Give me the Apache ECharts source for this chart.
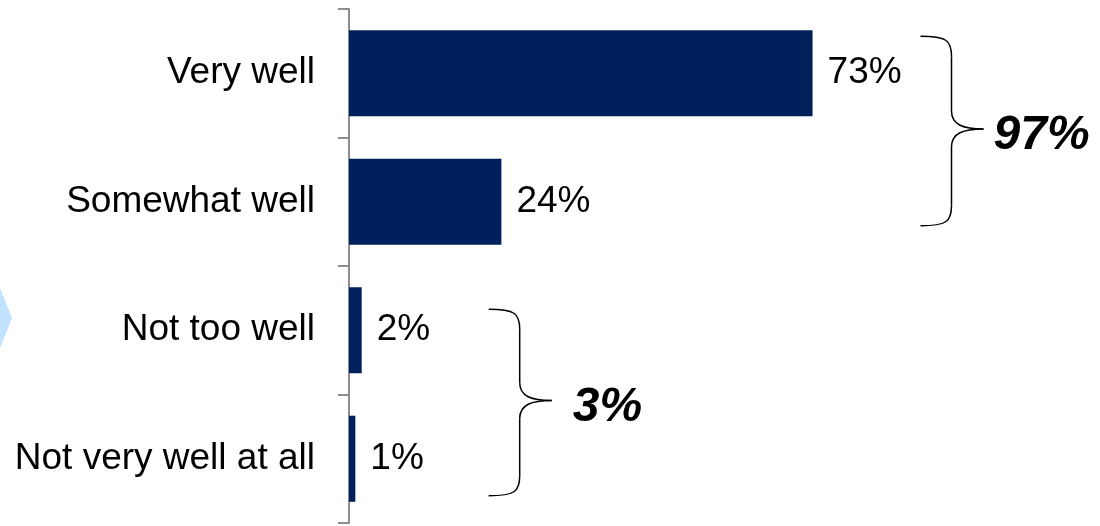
<!DOCTYPE html>
<html>
<head>
<meta charset="utf-8">
<script src="https://cdn.jsdelivr.net/npm/echarts@6/dist/echarts.min.js"></script>
<style>html,body{margin:0;padding:0;background:#fff}#c{width:1100px;height:526px}</style>
</head>
<body>
<div id="c"></div>
<script>
const categories = ['Very well', 'Somewhat well', 'Not too well', 'Not very well at all'];
const values = [73, 24, 2, 1];
// brace groups: category index range and brace anchor (in value units)
const groupFrom = [0, 2];
const groupTo = [1, 3];
const braceAt = [90, 22];

const FONT = 'Liberation Sans, Arial, Helvetica, sans-serif';
const chart = echarts.init(document.getElementById('c'));
chart.setOption({
  animation: false,
  backgroundColor: '#fff',
  grid: { left: 349, right: 116, top: 9, bottom: 3 },
  xAxis: { type: 'value', min: 0, max: 100, show: false },
  yAxis: {
    type: 'category', data: categories, inverse: true,
    axisLine: { lineStyle: { color: '#8e8e8e', width: 2 } },
    axisTick: { show: true, length: 11, lineStyle: { color: '#8e8e8e', width: 2 } },
    axisLabel: { color: '#000', fontSize: 37, fontFamily: FONT, margin: 34 }
  },
  series: [{
    type: 'bar', data: values, barCategoryGap: '33%',
    itemStyle: { color: '#00205c' },
    label: { show: true, position: 'right', distance: 15, formatter: '{c}%',
      color: '#000', fontSize: 37, fontFamily: FONT }
  }]
});

const graphics = [{
  type: 'polygon', silent: true,
  shape: { points: [[-2, 283], [12, 318], [-2, 353]] },
  style: { fill: '#c2e3ff' }
}];
const stroke = { stroke: '#000', lineWidth: 1.5, fill: null };
function curve(x1, y1, cx1, cy1, cx2, cy2, x2, y2) {
  graphics.push({ type: 'bezierCurve', silent: true,
    shape: { x1, y1, x2, y2, cpx1: cx1, cpy1: cy1, cpx2: cx2, cpy2: cy2 }, style: stroke });
}
function seg(x1, y1, x2, y2) {
  graphics.push({ type: 'line', silent: true, shape: { x1, y1, x2, y2 }, style: stroke });
}
for (let g = 0; g < groupFrom.length; g++) {
  const pTop = chart.convertToPixel({ gridIndex: 0 }, [braceAt[g], groupFrom[g]]);
  const pBot = chart.convertToPixel({ gridIndex: 0 }, [braceAt[g], groupTo[g]]);
  const x0 = pTop[0];
  const yTop = pTop[1] - (g === 0 ? 37 : 21);
  const yBot = pBot[1] + (g === 0 ? 24 : 37);
  const ymid = (yTop + yBot) / 2 - 2;
  const xm = x0 + 31, xt = xm + 32;
  curve(x0, yTop, x0 + 26, yTop, xm, yTop + 4, xm, yTop + 20);
  seg(xm, yTop + 20, xm, ymid - 18);
  curve(xm, ymid - 18, xm, ymid - 4, xm + 12, ymid, xt, ymid);
  curve(xt, ymid, xm + 12, ymid, xm, ymid + 4, xm, ymid + 18);
  seg(xm, ymid + 18, xm, yBot - 20);
  curve(xm, yBot - 20, xm, yBot - 4, x0 + 26, yBot, x0, yBot);
  let total = 0;
  for (let i = groupFrom[g]; i <= groupTo[g]; i++) total += values[i];
  graphics.push({
    type: 'text', silent: true,
    x: xt + (g === 0 ? 10 : 21), y: ymid + 7,
    style: { text: total + '%', fill: '#000', fontSize: 48, fontWeight: 'bold',
      fontStyle: 'italic', fontFamily: FONT, align: 'left', verticalAlign: 'middle' }
  });
}
chart.setOption({ graphic: graphics });
</script>
</body>
</html>
